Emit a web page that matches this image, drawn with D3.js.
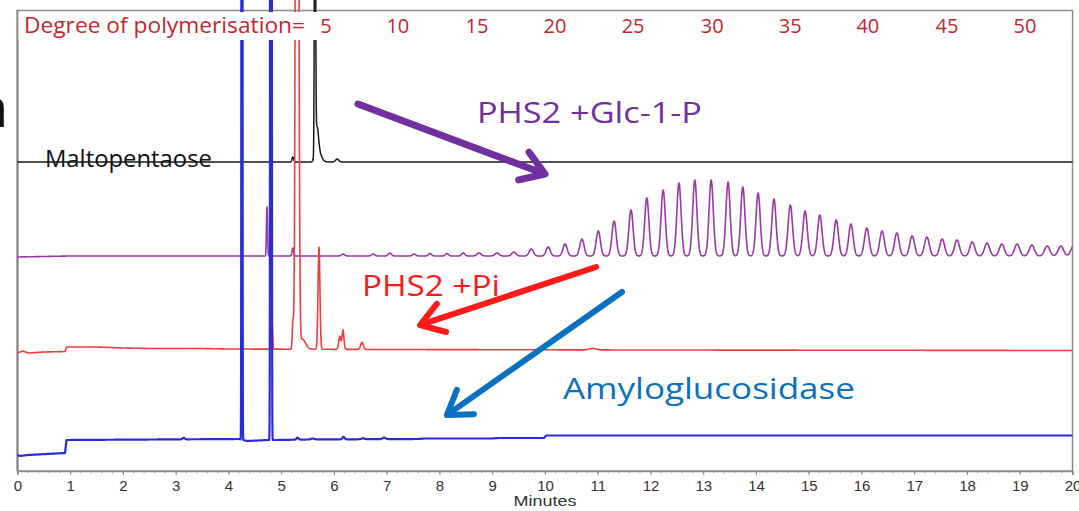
<!DOCTYPE html>
<html><head><meta charset="utf-8">
<script src="https://cdn.jsdelivr.net/npm/d3@7"></script>
<style>body{margin:0;background:#fff;} svg{display:block;}</style>
</head><body>
<svg id="c" width="1079" height="511"></svg>
<script>
// ---------- DATA (minutes, detector response units) ----------
const minuteTicks = d3.range(0, 21);
const dpLabels = [5, 10, 15, 20, 25, 30, 35, 40, 45, 50];
const dpTimes  = [5.85, 7.21, 8.71, 10.19, 11.67, 13.17, 14.65, 16.12, 17.62, 19.10];

// baselines: [minute, response]
const blackBase  = [[0,309],[20,309]];
const purpleBase = [[0,214],[1,215],[20,215]];
const redBase    = [[0,118],[0.1,120],[0.2,118],[0.5,119],[0.9,119.5],[0.93,124],[1.5,124],[2.0,123],[2.5,122.5],[3.5,122.5],[4.0,122],[7,121.5],[12,121],[20,120.5]];
const blueBase   = [[0,16],[0.05,15],[0.2,16],[0.9,18],[0.93,31],[4.2,32],[4.35,30],[4.75,31],[4.9,31],[5.5,31.5],[7.6,32],[7.7,32.5],[9.0,32.5],[9.1,33],[9.98,33],[10.02,35.5],[20,35.5]];

// peaks: [retention time (min), height, width sigma (min)]
const blackPeaks = [[5.22,5,0.015],[5.64,420,0.010],[5.675,30,0.03],[5.72,8,0.05],[6.06,3,0.03]];
const purplePeaks = [
  [4.73,49,0.010],[5.22,8,0.015],[6.17,2,0.03],[6.74,2,0.03],[7.06,3,0.03],[7.52,2,0.03],[7.82,2.5,0.03],[8.14,2.5,0.03],[8.45,3,0.03],
  [8.75,3,0.04],[9.09,3,0.04],[9.41,4,0.04],[9.74,7,0.04],[10.06,9,0.04],[10.38,12,0.04],[10.70,17,0.04],[11.01,25,0.04],
  [11.31,35,0.04],[11.63,46,0.04],[11.93,58,0.04],[12.24,66,0.04],[12.54,73,0.04],[12.84,76,0.04],[13.15,76,0.04],[13.47,74,0.04],
  [13.75,69,0.04],[14.04,63,0.04],[14.34,57,0.04],[14.65,51,0.042],[14.93,45,0.042],[15.21,41,0.042],[15.52,36,0.042],[15.80,32,0.042],
  [16.10,28,0.044],[16.39,25,0.044],[16.67,23,0.044],[16.96,20,0.045],[17.24,19,0.045],[17.53,17,0.045],[17.81,16,0.046],[18.10,14,0.046],
  [18.38,13,0.047],[18.66,12,0.047],[18.95,12,0.048],[19.23,11,0.048],[19.52,10,0.049],[19.78,10,0.05],[20.02,10,0.05]
];
const redPeaks = [[4.82,38,0.012],[5.22,26,0.012],[5.30,1290,0.023],[5.40,10,0.06],[5.715,102,0.018],[6.11,13,0.02],[6.17,19,0.018],[6.53,7,0.025],[10.9,1.5,0.06]];
const bluePeaks = [[3.15,1.5,0.02],[4.255,3000,0.006],[4.805,5000,0.008],[5.31,2,0.02],[5.6,1,0.03],[6.18,2.5,0.02],[6.55,1,0.03],[6.95,1.5,0.03]];

const seriesNames  = ["Maltopentaose", "PHS2 +Glc-1-P", "PHS2 +Pi", "Amyloglucosidase"];
const seriesColors = ["#1a1a1a", "#9a38a8", "#f03c3c", "#2a2ae0"];

// ---------- SCALES ----------
const svg = d3.select("#c");
const x = d3.scaleLinear().domain([0, 20]).range([17.5, 1072.5]);
const y = d3.scaleLinear().domain([0, 460]).range([471, 11]);

// ---------- TRACE BUILDER ----------
function baseAt(base, t) {
  for (let i = 0; i < base.length - 1; i++) {
    const a = base[i], b = base[i+1];
    if (t >= a[0] && t <= b[0]) return a[1] + (b[1]-a[1]) * (t - a[0]) / (b[0]-a[0]);
  }
  return base[base.length-1][1];
}
function trace(base, peaks) {
  let ts = d3.range(0, 20.0001, 0.005);
  peaks.forEach(p => { const w = p[2]; for (let t = p[0]-7*w; t <= p[0]+7*w; t += w/8) ts.push(t); });
  base.forEach(b => ts.push(b[0]));
  ts = Array.from(new Set(ts.filter(t => t >= 0 && t <= 20).map(t => +t.toFixed(5)))).sort((a,b)=>a-b);
  return ts.map(t => {
    let v = baseAt(base, t);
    peaks.forEach(p => { v += p[1] * Math.exp(-0.5 * Math.pow((t - p[0]) / p[2], 2)); });
    return [t, v];
  });
}
const line = d3.line().x(d => x(d[0])).y(d => y(d[1]));

// ---------- FRAME & AXIS ----------
svg.append("rect").attr("x", x(0)).attr("y", 10.5).attr("width", x(20)-x(0)).attr("height", 471-10.5)
  .attr("fill", "none").attr("stroke", "#8c8c8c").attr("stroke-width", 1.5);
svg.append("line").attr("x1", x(0)).attr("x2", x(0)).attr("y1", 10).attr("y2", 471)
  .attr("stroke", "#808080").attr("stroke-width", 2);

// minor ticks
svg.append("g").selectAll("line").data(d3.range(0, 20.0001, 0.2)).join("line")
  .attr("x1", d => x(d)).attr("x2", d => x(d)).attr("y1", 471).attr("y2", 473.5)
  .attr("stroke", "#b0b0b0").attr("stroke-width", 1);

const axis = svg.append("g").attr("transform", "translate(0,471)")
  .call(d3.axisBottom(x).tickValues(minuteTicks).tickFormat(d3.format("d")).tickSize(4).tickPadding(5));
axis.select(".domain").attr("stroke", "#8c8c8c").attr("stroke-width", 1.5);
axis.selectAll(".tick line").attr("stroke", "#8c8c8c");
axis.selectAll(".tick text").attr("fill", "#333").style("font-family", "'Liberation Sans', Arial, sans-serif").style("font-size", "15px");

svg.append("text").attr("x", x(10)).attr("y", 506).attr("text-anchor", "middle")
  .attr("fill", "#333").style("font-family", "'Liberation Sans', Arial, sans-serif").style("font-size", "15px")
  .attr("textLength", 63).attr("lengthAdjust", "spacingAndGlyphs")
  .text("Minutes");

// ---------- TRACES ----------
const traces = [trace(blackBase, blackPeaks), trace(purpleBase, purplePeaks), trace(redBase, redPeaks), trace(blueBase, bluePeaks)];
const widths = [1.5, 1.6, 1.6, 2.2];
svg.append("g").selectAll("path").data(traces).join("path")
  .attr("d", line).attr("fill", "none")
  .attr("stroke", (d,i) => seriesColors[i]).attr("stroke-width", (d,i) => widths[i])
  .attr("stroke-linejoin", "round");

// ---------- DP LABEL ROW ----------
svg.append("rect").attr("x", x(0)+1).attr("y", 12).attr("width", x(20)-x(0)-2).attr("height", 28).attr("fill", "#fff");
const dpFont = "'Open Sans', 'DejaVu Sans', sans-serif";
svg.append("text").attr("x", 24).attr("y", 33).attr("fill", "#c3262c")
  .style("font-family", dpFont).style("font-size", "21px")
  .attr("textLength", 281).attr("lengthAdjust", "spacingAndGlyphs")
  .text("Degree of polymerisation=");
svg.append("g").selectAll("text").data(dpLabels).join("text")
  .attr("x", (d,i) => x(dpTimes[i])).attr("y", 33).attr("text-anchor", "middle")
  .attr("fill", "#c3262c").style("font-family", dpFont).style("font-size", "20px")
  .text(d => d);

// ---------- ANNOTATIONS ----------
const annFont = "'Open Sans', 'DejaVu Sans', sans-serif";
function label(txt, t, v, size, len, color) {
  svg.append("text").attr("x", x(t)).attr("y", y(v)).attr("fill", color)
    .style("font-family", annFont).style("font-size", size + "px")
    .attr("textLength", len).attr("lengthAdjust", "spacingAndGlyphs").text(txt);
}
label(seriesNames[0], 0.52, 304, 24, 167, "#111");
label(seriesNames[1], 8.71, 348, 29, 225, "#7030a0");
label(seriesNames[2], 6.53, 175, 29, 138, "#ff1a1a");
label(seriesNames[3], 10.34, 72, 29, 292, "#0a70c0");

// cut-off letter at left edge
svg.append("text").attr("x", 8).attr("y", 127).attr("text-anchor", "end")
  .attr("fill", "#111").style("font-family", annFont).style("font-size", "54px").style("font-weight", "600").text("n");

function arrow(t0, v0, t1, v1, color, sw) {
  const x0 = x(t0), y0 = y(v0), x1 = x(t1), y1 = y(v1);
  const ang = Math.atan2(y0 - y1, x0 - x1), L = 27, a = 0.58;
  const b1 = [x1 + L*Math.cos(ang + a), y1 + L*Math.sin(ang + a)];
  const b2 = [x1 + L*Math.cos(ang - a), y1 + L*Math.sin(ang - a)];
  const g = svg.append("g").attr("stroke", color).attr("stroke-width", sw).attr("fill", "none")
    .attr("stroke-linecap", "round").attr("stroke-linejoin", "round");
  g.append("line").attr("x1", x0).attr("y1", y0).attr("x2", x1 - 2*Math.cos(ang+Math.PI)).attr("y2", y1 - 2*Math.sin(ang+Math.PI));
  g.append("path").attr("d", `M${b1[0]},${b1[1]}L${x1},${y1}L${b2[0]},${b2[1]}`);
}
arrow(6.455, 367, 10.0, 297, "#7030a0", 7);
arrow(10.97, 204, 7.63, 146, "#ff1a1a", 6);
arrow(11.46, 179, 8.14, 56, "#0a70c0", 6);
</script>
</body></html>
